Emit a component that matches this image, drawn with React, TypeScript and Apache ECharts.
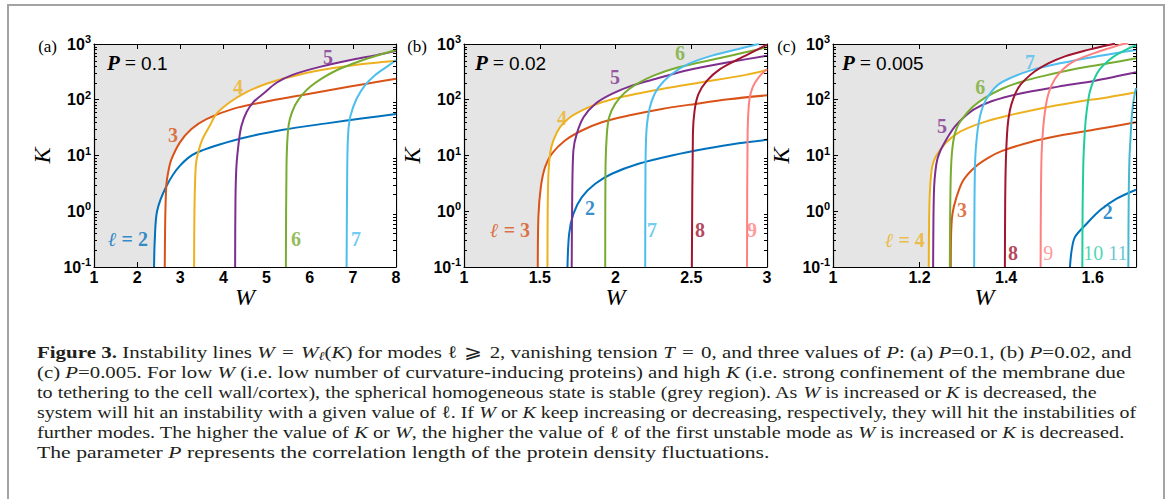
import React, { useEffect, useRef } from 'react';
import * as echarts from 'echarts';

// ---------- data: instability lines K(W) ----------
// panel (a) P = 0.1
const A2 = [[2.392,0.1],[2.408,0.30],[2.462,1.0],[2.678,2.8],[2.988,6.5],[3.374,11.2],[4.38,20],[5.385,29],[6.391,37.7],[7.241,46.4],[8,55.6]];
const A3 = [[2.64,0.1],[2.647,0.4],[2.655,1.0],[2.678,3.0],[2.732,5.6],[2.794,8.5],[2.988,17],[3.258,29.8],[3.606,45],[4.225,68.6],[4.998,93],[5.772,119],[6.545,153],[7.318,194],[8,239]];
const A4 = [[3.32,0.1],[3.328,1],[3.359,6.5],[3.413,11.2],[3.514,19.6],[3.684,34.2],[3.838,55.6],[4.148,90],[4.534,137],[4.998,194],[5.54,256],[6.236,338],[7.009,417],[8,499]];
const A5 = [[4.271,0.1],[4.279,1.6],[4.302,6.5],[4.364,19.6],[4.418,34.2],[4.534,59.6],[4.689,90],[4.921,128],[5.23,202],[5.617,282],[6.236,389],[7.009,527],[7.551,632],[8,747]];
const A6 = [[5.447,0.1],[5.462,6.5],[5.493,25.9],[5.54,45],[5.656,78.7],[5.81,119],[6.004,169],[6.275,239],[6.623,338],[7.009,447],[7.473,590],[8,778]];
const A7 = [[6.855,0.1],[6.87,6.5],[6.893,26],[6.947,52],[7.087,104],[7.28,181],[7.512,275],[7.783,389],[8,513]];

// panel (b) P = 0.02
const B2 = [[1.683,0.1],[1.694,0.395],[1.722,0.9],[1.778,1.79],[1.866,3.11],[1.976,4.7],[2.152,7.1],[2.372,10],[2.593,13.2],[2.813,16.6],[3,19.1]];
const B3 = [[1.487,0.1],[1.491,0.79],[1.507,2.71],[1.535,6.18],[1.579,10.7],[1.667,18.6],[1.778,28.1],[1.91,39.6],[2.086,52],[2.306,68.5],[2.526,84.2],[2.747,102],[3,120]];
const B4 = [[1.551,0.1],[1.555,3.11],[1.568,10.7],[1.59,18.6],[1.634,32.2],[1.7,48.6],[1.8,68.5],[1.91,90.2],[2.086,119],[2.306,156],[2.57,206],[2.835,271],[3,342]];
const B5 = [[1.711,0.1],[1.714,1.56],[1.722,12.3],[1.744,24.4],[1.789,48.6],[1.866,84.2],[1.976,127],[2.108,179],[2.262,236],[2.482,342],[2.747,470],[3,618]];
const B6 = [[1.932,0.1],[1.934,6.18],[1.943,24.4],[1.958,48.6],[1.998,84.2],[2.064,136],[2.141,192],[2.251,271],[2.416,382],[2.659,538],[2.857,709],[3,872]];
const B7 = [[2.196,0.1],[2.198,6.18],[2.203,24.4],[2.214,48.6],[2.24,96.6],[2.284,167],[2.372,290],[2.482,439],[2.637,618],[2.813,813],[2.945,1000]];
const B8 = [[2.504,0.1],[2.511,24.4],[2.522,64],[2.548,127],[2.604,220],[2.692,357],[2.813,538],[2.923,760],[3,973]];
const B9 = [[2.868,0.1],[2.872,24.4],[2.883,96.6],[2.905,167],[2.945,253],[3,357]];

// panel (c) P = 0.005
const C2 = [[1.5474,0.1],[1.5513,0.199],[1.559,0.344],[1.586,0.597],[1.6168,1.04],[1.6554,1.68],[1.7,2.43]];
const C3 = [[1.2722,0.1],[1.2729,0.396],[1.276,0.9],[1.2853,1.79],[1.3007,3.56],[1.3277,6.18],[1.3585,9.08],[1.3894,12.0],[1.4549,17.3],[1.5243,22.8],[1.6052,29.2],[1.7,39.5]];
const C4 = [[1.2213,0.1],[1.2221,0.788],[1.2244,2.7],[1.229,6.18],[1.2367,9.33],[1.2467,12.3],[1.2621,17.3],[1.2853,24.5],[1.3123,31.3],[1.3508,40.1],[1.4048,52],[1.4742,68.5],[1.559,90.2],[1.6361,111],[1.7,136]];
const C5 = [[1.2313,0.1],[1.2321,0.788],[1.2336,2.7],[1.2367,5.38],[1.2413,8.71],[1.2483,12.3],[1.2583,17.3],[1.2699,24.5],[1.2814,33.1],[1.3007,47.3],[1.3277,68.5],[1.3662,94],[1.4279,127],[1.5204,172],[1.6052,220],[1.7,311]];
const C6 = [[1.2699,0.1],[1.2706,0.788],[1.2722,4.7],[1.2753,12.3],[1.2814,24.5],[1.2907,36.9],[1.3045,52],[1.3238,75.5],[1.3508,108],[1.3894,156],[1.4356,211],[1.4896,271],[1.559,357],[1.6361,450],[1.7,554]];
const C7 = [[1.3261,0.1],[1.3269,1.56],[1.3284,8.13],[1.3315,18.6],[1.3362,36.9],[1.3431,64],[1.3524,96.6],[1.3647,136],[1.3817,187],[1.4048,236],[1.4549,333],[1.5243,450],[1.6052,593],[1.7,781]];
const C8 = [[1.3971,0.1],[1.3978,1.56],[1.3994,8.13],[1.4032,32.2],[1.4086,64],[1.4163,104],[1.4279,163],[1.4433,227],[1.4665,324],[1.4973,450],[1.5359,601],[1.5821,760],[1.6399,973],[1.6515,1014]];
const C9 = [[1.4796,0.1],[1.4803,1.56],[1.4819,10.7],[1.4857,32.2],[1.4911,73.4],[1.4988,136],[1.5127,236],[1.532,357],[1.559,502],[1.5937,644],[1.6322,813],[1.6708,1000],[1.6823,1020]];
const C10 = [[1.576,0.1],[1.5767,1.19],[1.5783,7.1],[1.5806,18.6],[1.5837,42.4],[1.5883,84.2],[1.5937,142],[1.6037,236],[1.6168,357],[1.6361,502],[1.6554,644],[1.6785,802],[1.7,946]];
const C11 = [[1.6823,0.1],[1.6831,1.56],[1.6847,8.13],[1.687,18.6],[1.6901,48.6],[1.6939,90.2],[1.6978,136],[1.7,163]];

// curve labels: [W, K, text, mode]
const LABELS_A = [[1.788,0.318,'{l|ℓ} = 2',2],[2.831,23.3,'3',3],[4.338,169,'4',4],[6.424,585,'5',5],[5.683,0.318,'6',6],[7.073,0.318,'7',7]];
const LABELS_B = [[1.304,0.461,'{l|ℓ} = 3',3],[1.647,47.1,'4',4],[1.997,256,'5',5],[2.426,690,'6',6],[1.832,1.14,'2',2],[2.241,0.461,'7',7],[2.558,0.461,'8',8],[2.901,0.461,'9',9]];
const LABELS_C = [[1.166,0.305,'{l|ℓ} = 4',4],[1.252,33.8,'5',5],[1.340,169,'6',6],[1.455,475,'7',7],[1.298,1.05,'3',3],[1.635,0.969,'2',2],[1.416,0.178,'8',8],[1.497,0.178,'9',9],[1.601,0.178,'10',10],[1.658,0.178,'11',11]];

const K_MINOR = [0.2,0.3,0.4,0.5,0.6,0.7,0.8,0.9,2,3,4,5,6,7,8,9,20,30,40,50,60,70,80,90,200,300,400,500,600,700,800,900];
const K_MIN = 0.1;
const K_MAX = 1000;

const COLORS: Record<number, string> = {
  2: '#0072BD', 3: '#D95319', 4: '#EDB120', 5: '#7E2F8E', 6: '#77AC30',
  7: '#4DBEEE', 8: '#A2142F', 9: '#FF8080', 10: '#1FCC9E', 11: '#48B8CC',
};

const SANS = 'Liberation Sans';
const SERIF = 'Liberation Serif';

const PANELS = [
  { xMin: 1, xMax: 8, xInterval: 1, tag: '(a)', p: '0.1', left: 94, width: 302, pLeft: 107,
    curves: [[2, A2], [3, A3], [4, A4], [5, A5], [6, A6], [7, A7]], labels: LABELS_A },
  { xMin: 1, xMax: 3, xInterval: 0.5, tag: '(b)', p: '0.02', left: 464, width: 303, pLeft: 475,
    curves: [[2, B2], [3, B3], [4, B4], [5, B5], [6, B6], [7, B7], [8, B8], [9, B9]], labels: LABELS_B },
  { xMin: 1, xMax: 1.7, xInterval: 0.2, tag: '(c)', p: '0.005', left: 833, width: 303, pLeft: 842,
    curves: [[2, C2], [3, C3], [4, C4], [5, C5], [6, C6], [7, C7], [8, C8], [9, C9], [10, C10], [11, C11]], labels: LABELS_C },
];
const TOP = 44;
const HEIGHT = 223;

// ---------- caption ----------
type Seg = [string, string];
const CAPTION: Seg[][] = [
  [['b', 'Figure 3.'], ['n', ' Instability lines '], ['i', 'W'], ['q', '='], ['i', 'W'], ['s', 'ℓ'], ['n', '('], ['i', 'K'], ['n', ') for modes ℓ'], ['q', '⩾'], ['n', '2, vanishing tension '], ['i', 'T'], ['q', '='], ['n', '0, and three values of '], ['i', 'P'], ['n', ': (a) '], ['i', 'P'], ['n', '=0.1, (b) '], ['i', 'P'], ['n', '=0.02, and']],
  [['n', '(c) '], ['i', 'P'], ['n', '=0.005. For low '], ['i', 'W'], ['n', ' (i.e. low number of curvature-inducing proteins) and high '], ['i', 'K'], ['n', ' (i.e. strong confinement of the membrane due']],
  [['n', 'to tethering to the cell wall/cortex), the spherical homogeneous state is stable (grey region). As '], ['i', 'W'], ['n', ' is increased or '], ['i', 'K'], ['n', ' is decreased, the']],
  [['n', 'system will hit an instability with a given value of ℓ. If '], ['i', 'W'], ['n', ' or '], ['i', 'K'], ['n', ' keep increasing or decreasing, respectively, they will hit the instabilities of']],
  [['n', 'further modes. The higher the value of '], ['i', 'K'], ['n', ' or '], ['i', 'W'], ['n', ', the higher the value of ℓ of the first unstable mode as '], ['i', 'W'], ['n', ' is increased or '], ['i', 'K'], ['n', ' is decreased.']],
  [['n', 'The parameter '], ['i', 'P'], ['n', ' represents the correlation length of the protein density fluctuations.']],
];
// right end of each caption line in the reference layout
const CAPTION_END = [1132, 1126, 1097, 1137, 1124, 770];
const CAP_SIZE = 17.5;
const CAP_STYLES: Record<string, any> = {
  n: { fontFamily: SERIF, fontSize: CAP_SIZE, fill: '#231f20' },
  b: { fontFamily: SERIF, fontSize: CAP_SIZE, fontWeight: 'bold', fill: '#231f20' },
  i: { fontFamily: SERIF, fontSize: CAP_SIZE, fontStyle: 'italic', fill: '#231f20' },
  q: { fontFamily: SERIF, fontSize: CAP_SIZE, fill: '#231f20', padding: [0, 6, 0, 6] },
  s: { fontFamily: SERIF, fontSize: 12, fontStyle: 'italic', fill: '#231f20', padding: [7, 0, 0, 0] },
};

function measureSegs(segs: Seg[]): number {
  const ctx = document.createElement('canvas').getContext('2d');
  if (!ctx) return 1;
  let w = 0;
  for (const [k, t] of segs) {
    const s = CAP_STYLES[k];
    ctx.font = `${s.fontStyle || 'normal'} ${s.fontWeight || 'normal'} ${s.fontSize}px "${s.fontFamily}"`;
    w += ctx.measureText(t).width;
    if (s.padding) w += s.padding[1] + s.padding[3];
  }
  return w;
}

function buildOption() {
  const grid: any[] = [];
  const xAxis: any[] = [];
  const yAxis: any[] = [];
  const series: any[] = [];
  const graphic: any[] = [];

  const axisLine = { show: true, onZero: false, lineStyle: { color: '#000', width: 1.2 } };
  const axisTick = { show: true, inside: true, length: 5, lineStyle: { color: '#000', width: 1 } };
  const nameStyle = { fontFamily: SERIF, fontStyle: 'italic', fontSize: 24, color: '#000' };

  PANELS.forEach((pn, i) => {
    grid.push({ left: pn.left, top: TOP, width: pn.width, height: HEIGHT, show: true,
      backgroundColor: '#e5e5e5', borderWidth: 0 });
    xAxis.push({
      gridIndex: i, type: 'value', position: 'bottom', min: pn.xMin, max: pn.xMax, interval: pn.xInterval,
      axisLine, axisTick, splitLine: { show: false },
      axisLabel: { color: '#000', fontFamily: SANS, fontWeight: 'bold', fontSize: 16, lineHeight: 14, margin: 3, showMaxLabel: pn.xMax === 1.7 ? false : true },
      name: 'W', nameLocation: 'middle', nameGap: 21, nameMoveOverlap: false,
      nameTextStyle: { ...nameStyle, lineHeight: 18 },
    });
    xAxis.push({
      gridIndex: i, type: 'value', position: 'top', min: pn.xMin, max: pn.xMax, interval: pn.xInterval,
      axisLine, axisTick, splitLine: { show: false }, axisLabel: { show: false },
    });
    yAxis.push({
      gridIndex: i, type: 'log', logBase: 10, position: 'left', min: K_MIN, max: K_MAX, splitNumber: 4,
      axisLine, axisTick, splitLine: { show: false }, minorTick: { show: false },
      axisLabel: {
        margin: 3,
        formatter: (v: number) => `{b|10}{e|${Math.round(Math.log10(v))}}`,
        rich: {
          b: { fontFamily: SANS, fontWeight: 'bold', fontSize: 16, color: '#000' },
          e: { fontFamily: SANS, fontWeight: 'bold', fontSize: 11, color: '#000', padding: [0, 0, 10, 0] },
        },
      },
      name: 'K', nameLocation: 'middle', nameGap: 40, nameTextStyle: nameStyle,
    });
    yAxis.push({
      gridIndex: i, type: 'log', logBase: 10, position: 'right', min: K_MIN, max: K_MAX, splitNumber: 4,
      axisLine, axisTick, splitLine: { show: false }, axisLabel: { show: false },
    });

    const xi = 2 * i;
    const yi = 2 * i;
    // white fill under every curve (unstable region)
    pn.curves.forEach(([mode, data]: any) => {
      series.push({
        type: 'line', xAxisIndex: xi, yAxisIndex: yi, data, smooth: 0.3, symbol: 'none', silent: true,
        lineStyle: { width: 0, opacity: 0 }, areaStyle: { color: '#ffffff', opacity: 1, origin: 'start' }, z: 1,
      });
    });
    pn.curves.forEach(([mode, data]: any) => {
      series.push({
        type: 'line', xAxisIndex: xi, yAxisIndex: yi, data, smooth: 0.3, symbol: 'none', silent: true,
        lineStyle: { width: 2, color: COLORS[mode] }, z: 2,
      });
    });
    // minor log ticks on left and right box edges
    series.push({
      type: 'custom', xAxisIndex: xi, yAxisIndex: yi, silent: true, z: 3,
      data: K_MINOR.map((k) => [pn.xMin, k]),
      renderItem: (params: any, api: any) => {
        const cs = params.coordSys;
        const p = api.coord([api.value(0), api.value(1)]);
        const y = Math.round(p[1]) + 0.5;
        return {
          type: 'group',
          children: [
            { type: 'line', shape: { x1: cs.x, y1: y, x2: cs.x + 3, y2: y }, style: { stroke: '#000', lineWidth: 1 } },
            { type: 'line', shape: { x1: cs.x + cs.width - 3, y1: y, x2: cs.x + cs.width, y2: y }, style: { stroke: '#000', lineWidth: 1 } },
          ],
        };
      },
    });
    // curve labels
    series.push({
      type: 'scatter', xAxisIndex: xi, yAxisIndex: yi, silent: true, z: 5, symbolSize: 1,
      itemStyle: { color: 'rgba(0,0,0,0)' },
      data: pn.labels.map((l: any) => ({
        value: [l[0], l[1]], name: l[2],
        label: { color: COLORS[l[3]], fontWeight: (i === 2 && l[3] >= 9) ? 'normal' : 'bold' },
      })),
      label: {
        show: true, position: 'inside', formatter: (p: any) => p.name,
        fontFamily: SERIF, fontSize: 20, fontWeight: 'bold',
        rich: { l: { fontFamily: SERIF, fontSize: 20, fontStyle: 'italic', fontWeight: 'bold' } },
      },
    });

    graphic.push({
      type: 'text', x: pn.left - 37, y: 46, silent: true,
      style: { text: pn.tag, fontFamily: SERIF, fontSize: 17, fill: '#000', align: 'right', verticalAlign: 'middle' },
    });
    graphic.push({
      type: 'text', x: pn.pLeft, y: 63, silent: true, z: 10,
      style: {
        text: `{p|P} {e|=} {n|${pn.p}}`, verticalAlign: 'middle', align: 'left', fill: '#000',
        fontFamily: SERIF, fontSize: 20,
        rich: {
          p: { fontFamily: SERIF, fontSize: 21, fontStyle: 'italic', fontWeight: 'bold', fill: '#000' },
          e: { fontFamily: SERIF, fontSize: 20, fill: '#000' },
          n: { fontFamily: SANS, fontSize: 19, fill: '#000' },
        },
      },
    });
  });

  // outer frame
  graphic.push({
    type: 'polyline', silent: true,
    shape: { points: [[8, 499], [8, 5], [1164, 5], [1164, 499]] },
    style: { stroke: '#a3a3a3', lineWidth: 2, fill: null },
  });

  // caption
  const X0 = 37;
  CAPTION.forEach((segs, li) => {
    const scale = (CAPTION_END[li] - X0) / measureSegs(segs);
    graphic.push({
      type: 'text', x: X0, y: 352 + li * 20, scaleX: scale, silent: true,
      style: {
        text: segs.map(([k, t]) => `{${k}|${t}}`).join(''),
        fontFamily: SERIF, fontSize: CAP_SIZE, fill: '#231f20', verticalAlign: 'middle', align: 'left',
        rich: CAP_STYLES,
      },
    });
  });

  return { animation: false, backgroundColor: '#fff', grid, xAxis, yAxis, series, graphic };
}

export default function App() {
  const ref = useRef<HTMLDivElement>(null);
  useEffect(() => {
    if (!ref.current) return;
    const chart = echarts.init(ref.current, undefined, { renderer: 'svg' });
    chart.setOption(buildOption() as any);
    return () => chart.dispose();
  }, []);
  return (
    <div ref={ref} style={{ position: 'fixed', left: 0, top: 0, width: 1171, height: 499, background: '#fff' }} />
  );
}
